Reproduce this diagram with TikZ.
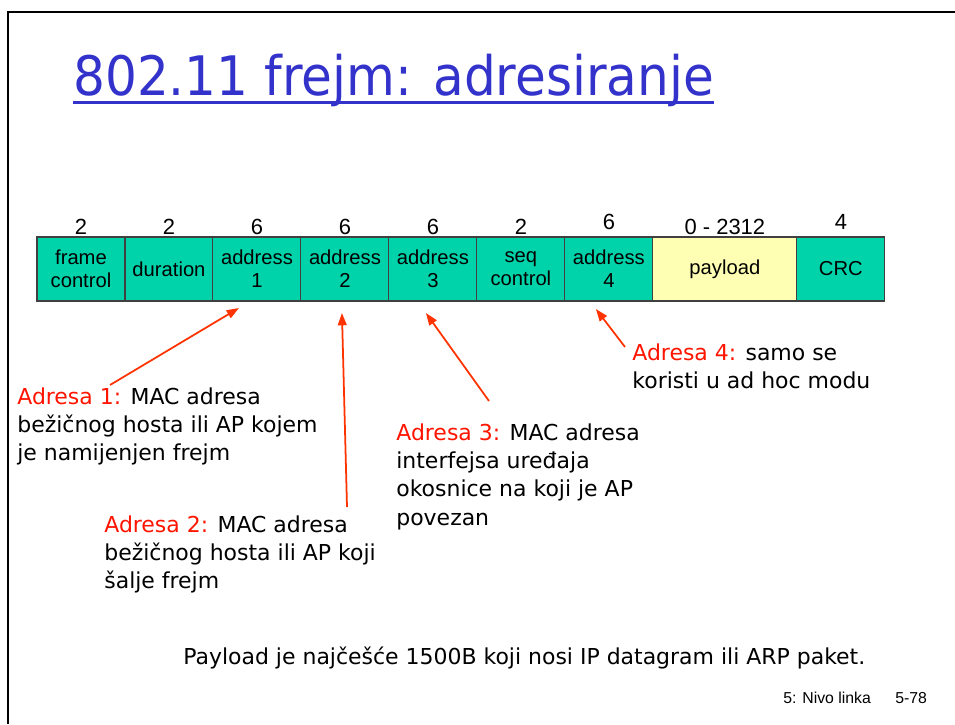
\documentclass[tikz,border=0pt]{standalone}
\usepackage{fontspec}
\setmainfont{DejaVu Sans}
\newfontfamily\arialfont{Liberation Sans}
\usetikzlibrary{positioning,arrows.meta}

\definecolor{fieldgreen}{RGB}{0,210,170}
\definecolor{payloadyellow}{RGB}{255,255,180}
\definecolor{titleblue}{RGB}{51,51,204}
\definecolor{adrred}{RGB}{255,20,0}
\definecolor{arrowred}{RGB}{255,51,0}

\begin{document}
\begin{tikzpicture}[x=0.02cm, y=-0.02cm,
    field/.style={draw=black!75, line width=0.6pt, fill=fieldgreen, minimum width=1.76cm, minimum height=1.28cm, outer sep=0pt, inner sep=1pt, align=center, font=\arialfont\fontsize{11.5}{13}\selectfont},
    bytes/.style={above=1pt of #1, inner sep=0pt, font=\arialfont\fontsize{12.5}{14}\selectfont},
    note/.style={anchor=north west, inner sep=0pt, align=left, font=\fontsize{12.5}{16.2}\selectfont, execute at begin node=\strut},
    pointer/.style={-{Triangle[length=7pt,width=5pt]}, draw=arrowred, line width=1pt}
]
\useasboundingbox (0,0) rectangle (955,724);
\draw[line width=1.7pt] (8,724) -- (8,12) -- (955,12);

% title
\node[anchor=base west, inner sep=0pt, text=titleblue, font=\fontsize{31}{31}\selectfont] (title) at (73,95) {\scalebox{0.92}[1]{802.11 frejm: adresiranje}};
\draw[titleblue, line width=1.7pt] ([yshift=-4pt]title.base west) -- ([yshift=-4pt]title.base east);

% frame fields
\node[field, anchor=north west] (fc) at (37,237) {frame\\control};
\node[field, right=0pt of fc] (dur) {duration};
\node[field, right=0pt of dur] (ad1) {address\\1};
\node[field, right=0pt of ad1] (ad2) {address\\2};
\node[field, right=0pt of ad2] (ad3) {address\\3};
\node[field, right=0pt of ad3] (seq) {seq\\control};
\node[field, right=0pt of seq] (ad4) {address\\4};
\node[field, fill=payloadyellow, minimum width=2.88cm, right=0pt of ad4] (pay) {payload};
\node[field, right=0pt of pay] (crc) {CRC};

\node[bytes=fc] (nfc) {2};
\node[bytes=dur] (ndur) {2};
\node[bytes=ad1] (nad1) {6};
\node[bytes=ad2] (nad2) {6};
\node[bytes=ad3] (nad3) {6};
\node[bytes=seq] (nseq) {2};
\node[bytes=ad4, above=4pt of ad4] (nad4) {6};
\node[bytes=pay] (npay) {0 - 2312};
\node[bytes=crc, above=4pt of crc] (ncrc) {4};

% notes
\node[note] (txt1) at (17,387) {\textcolor{adrred}{Adresa 1:} MAC adresa\\bežičnog hosta ili AP kojem\\je namijenjen frejm};
\node[note] (txt2) at (104,515) {\textcolor{adrred}{Adresa 2:} MAC adresa\\bežičnog hosta ili AP koji\\šalje frejm};
\node[note] (txt3) at (396,423) {\textcolor{adrred}{Adresa 3:} MAC adresa\\interfejsa uređaja\\okosnice na koji je AP\\povezan};
\node[note] (txt4) at (632,343) {\textcolor{adrred}{Adresa 4:} samo se\\koristi u ad hoc modu};

\coordinate (tip1) at ([shift={(-18,7)}]ad1.south);
\coordinate (tip2) at ([shift={(-3,12)}]ad2.south);
\coordinate (tip3) at ([shift={(-7,12)}]ad3.south);
\coordinate (tip4) at ([shift={(-13,8)}]ad4.south);

\draw[pointer] ([shift={(93,-2)}]txt1.north west) -- (tip1);
\draw[pointer] ([shift={(243,-8)}]txt2.north west) -- (tip2);
\draw[pointer] ([shift={(93,-22)}]txt3.north west) -- (tip3);
\draw[pointer] ([shift={(-7,4)}]txt4.north west) -- (tip4);

\node[note] (pay) at (183,644) {Payload je najčešće 1500B koji nosi IP datagram ili ARP paket.};

% footer
\node[anchor=base west, inner sep=0pt, font=\arialfont\fontsize{9}{11}\selectfont] (chap) at (783,703) {5: Nivo linka};
\node[anchor=base west, inner sep=0pt, font=\arialfont\fontsize{9}{11}\selectfont] (page) at (895,703) {5-78};
\end{tikzpicture}
\end{document}
